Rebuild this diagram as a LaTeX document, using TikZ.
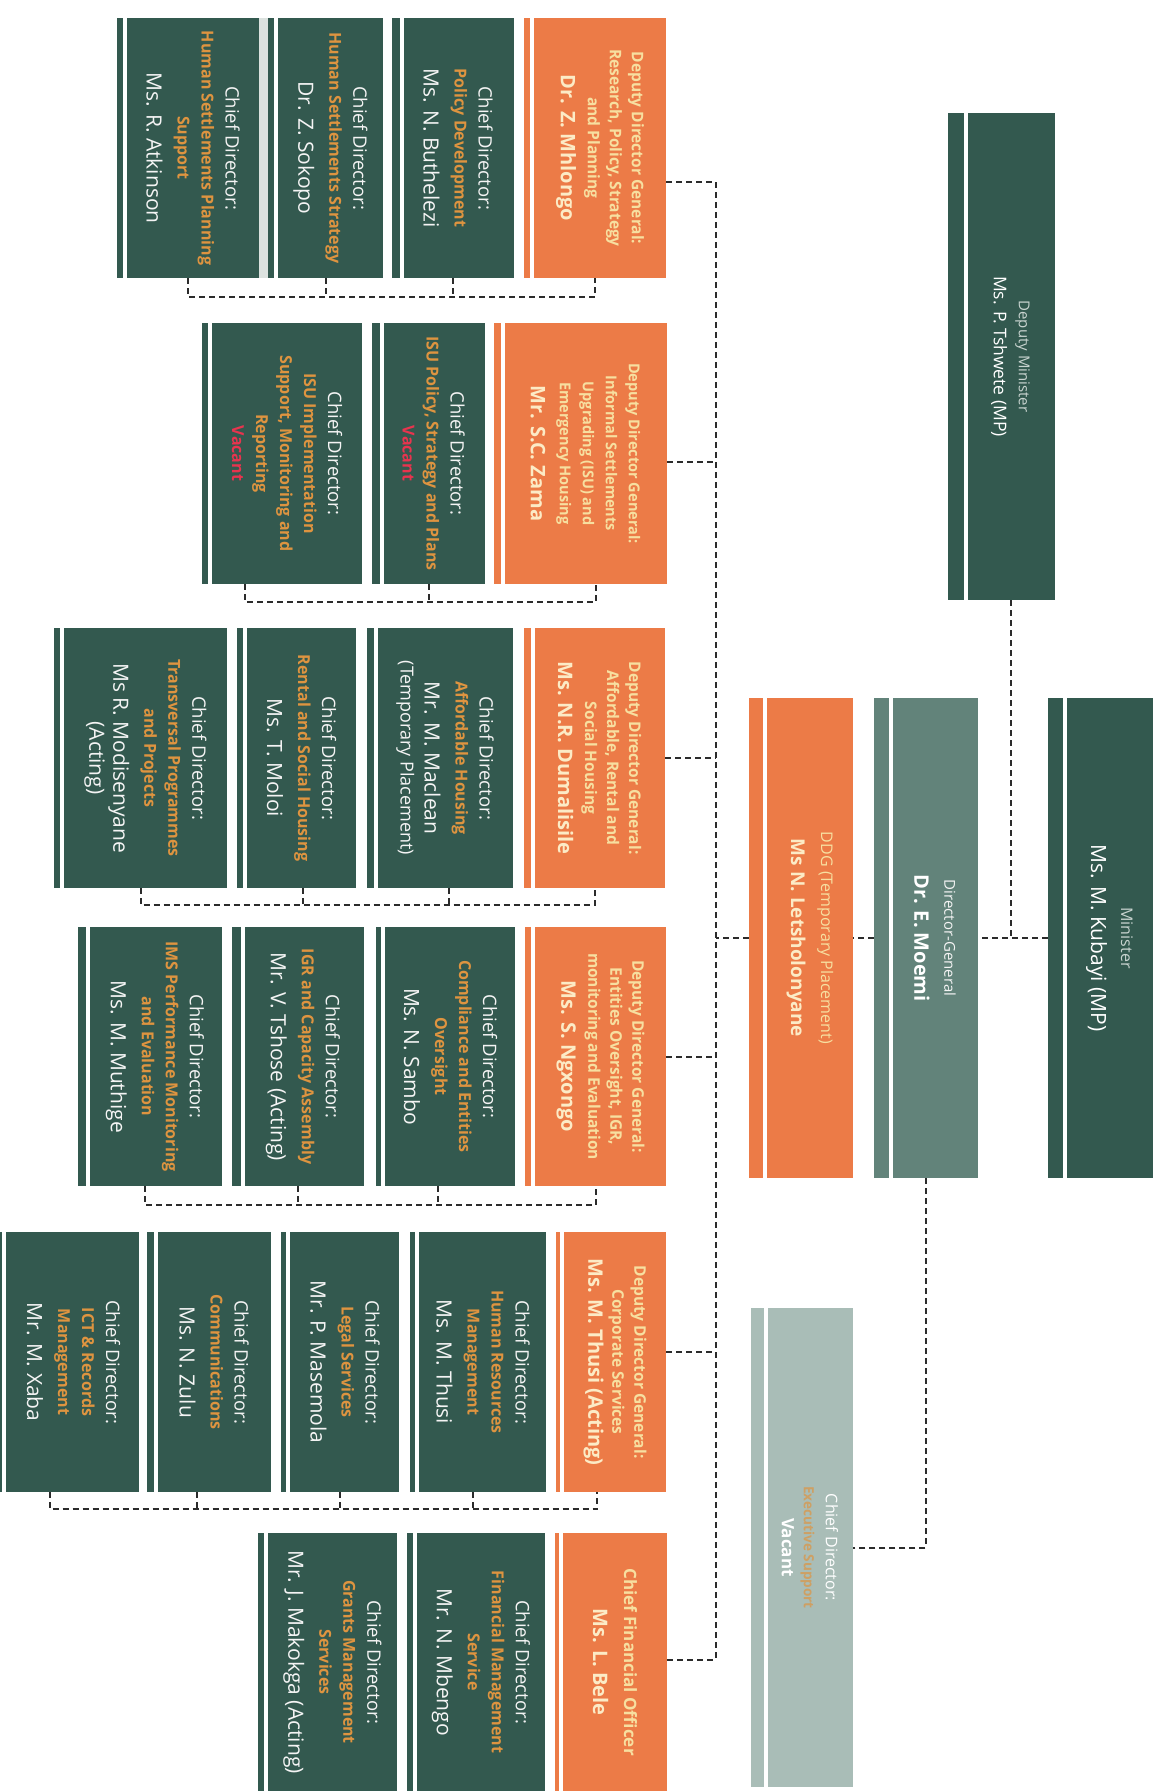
\documentclass[tikz,border=0pt]{standalone}
\usepackage{fontspec}
\setmainfont{Open Sans}
\newfontfamily\subf{Open Sans}[FakeStretch=0.97]
\usetikzlibrary{fit,calc}
\definecolor{dkg}{HTML}{33594F}
\definecolor{mdg}{HTML}{62837A}
\definecolor{org}{HTML}{EC7B47}
\definecolor{exc}{HTML}{A9BDB7}
\definecolor{subor}{HTML}{DE9440}
\definecolor{cream}{HTML}{F7DFA0}
\definecolor{creamn}{HTML}{FCEBC6}
\definecolor{vacred}{HTML}{E8344E}
\definecolor{ltxt}{HTML}{C8D3CF}
\definecolor{linec}{HTML}{2B2B2B}
\definecolor{txw}{HTML}{F4F4F4}
\definecolor{gapg}{HTML}{DCE2DF}
\newcommand\cdT{{\fontsize{18.5}{24}\selectfont\color{txw}Chief Director:}}
\newcommand\cdS[1]{{\subf\bfseries\fontsize{16.5}{24}\selectfont\color{subor}#1}}
\newcommand\cdN[1]{{\fontsize{21}{24}\selectfont\color{txw}#1}}
\newcommand\cdV{{\subf\bfseries\fontsize{16.5}{24}\selectfont\color{vacred}Vacant}}
\newcommand\ddT[1]{{\subf\bfseries\fontsize{16}{22}\selectfont\color{cream}#1}}
\newcommand\ddTs[1]{{\subf\bfseries\fontsize{15}{23}\selectfont\color{cream}#1}}
\newcommand\ddN[1]{{\bfseries\fontsize{20}{22}\selectfont\color{creamn}#1}}
\begin{document}
\begin{tikzpicture}[x=1pt,y=-1pt,
  conn/.style={draw=linec, line width=2pt, dash pattern=on 6pt off 4pt},
  cbox/.style={inner sep=0pt, draw=none},
  gapat/.style={path picture={\fill[white] ([xshift=#1]path picture bounding box.north west) rectangle ([xshift=#1+4pt]path picture bounding box.south west);}},
  lbl/.style={rotate=-90, align=center, inner sep=0pt},
  cdlbl/.style={lbl, font=\fontsize{18}{24}\selectfont},
  ddlbl/.style={lbl, font=\fontsize{16}{22}\selectfont}]
\fill[white] (0,0) rectangle (1163,1791);
\useasboundingbox (0,0) rectangle (1163,1791);
\fill[gapg] (259,18) rectangle (268,278);

% ---------- top level ----------
\node[cbox, fill=dkg, gapat=16pt, fit={(948,113) (1055,600)}] (dm) {};
\node[lbl, font=\fontsize{15}{25}\selectfont] (dm-t) at ([xshift=9pt]dm.center) {{\color{ltxt}Deputy Minister}\\{\fontsize{17.5}{25}\selectfont\color{white}Ms. P. Tshwete (MP)}};

\node[cbox, fill=dkg, gapat=15pt, fit={(1048,698) (1153,1178)}] (minister) {};
\node[lbl, font=\fontsize{16}{30}\selectfont] (minister-t) at ([xshift=9pt]minister.center) {{\color{ltxt}Minister}\\{\fontsize{21}{30}\selectfont\color{white}Ms. M. Kubayi (MP)}};

\node[cbox, fill=mdg, gapat=15pt, fit={(874,698) (978,1178)}] (dg) {};
\node[lbl, font=\fontsize{15}{30}\selectfont] (dg-t) at ([xshift=9pt]dg.center) {{\color{txw}Director-General}\\{\bfseries\fontsize{20}{30}\selectfont\color{white}Dr. E. Moemi}};

\node[cbox, fill=org, gapat=14pt, fit={(749,698) (853,1178)}] (ddg) {};
\node[lbl, font=\fontsize{16}{30}\selectfont] (ddg-t) at ([xshift=9pt]ddg.center) {{\color{cream}DDG (Temporary Placement)}\\{\bfseries\fontsize{19}{30}\selectfont\color{creamn}Ms N. Letsholonyane}};

\node[cbox, fill=exc, gapat=13pt, fit={(751,1308) (853,1787)}] (exec) {};
\node[lbl, font=\fontsize{16}{22}\selectfont] (exec-t) at ([xshift=8pt]exec.center) {{\color{white}Chief Director:}\\{\subf\bfseries\fontsize{14}{22}\selectfont\color{subor!70!exc}Executive Support}\\{\bfseries\fontsize{17}{22}\selectfont\color{white}Vacant}};

% ---------- band 1 ----------
\node[cbox, fill=org, gapat=6pt, fit={(524,18) (666,278)}] (mhl) {};
\node[ddlbl] (mhl-t) at ([xshift=5pt]mhl.center) {\ddT{Deputy Director General:}\\\ddT{Research, Policy, Strategy}\\\ddT{and Planning}\\[5pt]\ddN{Dr. Z. Mhlongo}};
\node[cbox, fill=dkg, gapat=8pt, fit={(392,18) (514,278)}] (but) {};
\node[cdlbl] (but-t) at ([xshift=5pt]but.center) {\cdT\\\cdS{Policy Development}\\[7pt]\cdN{Ms. N. Buthelezi}};
\node[cbox, fill=dkg, gapat=6pt, fit={(268,18) (383,278)}] (sok) {};
\node[cdlbl] (sok-t) at ([xshift=5pt]sok.center) {\cdT\\\cdS{Human Settlements Strategy}\\[7pt]\cdN{Dr. Z. Sokopo}};
\node[cbox, fill=dkg, gapat=6pt, fit={(117,18) (259,278)}] (atk) {};
\node[cdlbl] (atk-t) at ([xshift=5pt]atk.center) {\cdT\\\cdS{Human Settlements Planning}\\\cdS{Support}\\[7pt]\cdN{Ms. R. Atkinson}};

% ---------- band 2 ----------
\node[cbox, fill=org, gapat=7pt, fit={(494,323) (667,584)}] (zama) {};
\node[ddlbl, font=\fontsize{15}{23}\selectfont] (zama-t) at ([xshift=5pt]zama.center) {\ddTs{Deputy Director General:}\\\ddTs{Informal Settlements}\\\ddTs{Upgrading (ISU) and}\\\ddTs{Emergency Housing}\\[6pt]\ddN{Mr. S.C. Zama}};
\node[cbox, fill=dkg, gapat=8pt, fit={(372,323) (485,584)}] (isup) {};
\node[cdlbl] (isup-t) at ([xshift=5pt]isup.center) {\cdT\\\cdS{ISU Policy, Strategy and Plans}\\\cdV};
\node[cbox, fill=dkg, gapat=6pt, fit={(202,323) (362,584)}] (isui) {};
\node[cdlbl] (isui-t) at ([xshift=5pt]isui.center) {\cdT\\\cdS{ISU Implementation}\\\cdS{Support, Monitoring and}\\\cdS{Reporting}\\\cdV};

% ---------- band 3 ----------
\node[cbox, fill=org, gapat=7pt, fit={(524,628) (665,888)}] (duma) {};
\node[ddlbl] (duma-t) at ([xshift=5pt]duma.center) {\ddT{Deputy Director General:}\\\ddT{Affordable, Rental and}\\\ddT{Social Housing}\\[5pt]\ddN{Ms. N.R. Dumalisile}};
\node[cbox, fill=dkg, gapat=7pt, fit={(367,628) (513,888)}] (macl) {};
\node[cdlbl] (macl-t) at ([xshift=5pt]macl.center) {\cdT\\\cdS{Affordable Housing}\\[7pt]\cdN{Mr. M. Maclean}\\{\color{txw}(Temporary Placement)}};
\node[cbox, fill=dkg, gapat=6pt, fit={(237,628) (356,888)}] (moloi) {};
\node[cdlbl] (moloi-t) at ([xshift=5pt]moloi.center) {\cdT\\\cdS{Rental and Social Housing}\\[7pt]\cdN{Ms. T. Moloi}};
\node[cbox, fill=dkg, gapat=6pt, fit={(54,628) (227,888)}] (modi) {};
\node[cdlbl] (modi-t) at ([xshift=5pt]modi.center) {\cdT\\\cdS{Transversal Programmes}\\\cdS{and Projects}\\[7pt]\cdN{Ms R. Modisenyane}\\\cdN{(Acting)}};

% ---------- band 4 ----------
\node[cbox, fill=org, gapat=6pt, fit={(525,927) (666,1186)}] (ngxo) {};
\node[ddlbl] (ngxo-t) at ([xshift=5pt]ngxo.center) {\ddT{Deputy Director General:}\\\ddT{Entities Oversight, IGR,}\\\ddT{monitoring and Evaluation}\\[5pt]\ddN{Ms. S. Ngxongo}};
\node[cbox, fill=dkg, gapat=5pt, fit={(376,927) (515,1186)}] (samb) {};
\node[cdlbl] (samb-t) at ([xshift=5pt]samb.center) {\cdT\\\cdS{Compliance and Entities}\\\cdS{Oversight}\\[7pt]\cdN{Ms. N. Sambo}};
\node[cbox, fill=dkg, gapat=9pt, fit={(232,927) (364,1186)}] (tsho) {};
\node[cdlbl] (tsho-t) at ([xshift=5pt]tsho.center) {\cdT\\\cdS{IGR and Capacity Assembly}\\[7pt]\cdN{Mr. V. Tshose (Acting)}};
\node[cbox, fill=dkg, gapat=8pt, fit={(78,927) (222,1186)}] (muth) {};
\node[cdlbl] (muth-t) at ([xshift=5pt]muth.center) {\cdT\\\cdS{IMS Performance Monitoring}\\\cdS{and Evaluation}\\[7pt]\cdN{Ms. M. Muthige}};

% ---------- band 5 ----------
\node[cbox, fill=org, gapat=4pt, fit={(556,1232) (666,1492)}] (corp) {};
\node[ddlbl] (corp-t) at ([xshift=4pt]corp.center) {\ddT{Deputy Director General:}\\\ddT{Corporate Services}\\[2pt]\ddN{Ms. M. Thusi (Acting)}};
\node[cbox, fill=dkg, gapat=5pt, fit={(410,1232) (546,1492)}] (thus) {};
\node[cdlbl] (thus-t) at ([xshift=5pt]thus.center) {\cdT\\\cdS{Human Resources}\\\cdS{Management}\\[7pt]\cdN{Ms. M. Thusi}};
\node[cbox, fill=dkg, gapat=5pt, fit={(281,1232) (399,1492)}] (mase) {};
\node[cdlbl] (mase-t) at ([xshift=5pt]mase.center) {\cdT\\\cdS{Legal Services}\\[7pt]\cdN{Mr. P. Masemola}};
\node[cbox, fill=dkg, gapat=7pt, fit={(147,1232) (271,1492)}] (zulu) {};
\node[cdlbl] (zulu-t) at ([xshift=5pt]zulu.center) {\cdT\\\cdS{Communications}\\[7pt]\cdN{Ms. N. Zulu}};
\node[cbox, fill=dkg, gapat=4pt, fit={(-2,1232) (139,1492)}] (xaba) {};
\node[cdlbl] (xaba-t) at ([xshift=5pt]xaba.center) {\cdT\\\cdS{ICT \& Records}\\\cdS{Management}\\[7pt]\cdN{Mr. M. Xaba}};

% ---------- band 6 ----------
\node[cbox, fill=org, gapat=4pt, fit={(555,1533) (667,1791)}] (cfo) {};
\node[lbl, font=\fontsize{17}{31}\selectfont] (cfo-t) at ([xshift=4pt]cfo.center) {{\bfseries\color{cream}Chief Financial Officer}\\{\bfseries\fontsize{20}{31}\selectfont\color{creamn}Ms. L. Bele}};
\node[cbox, fill=dkg, gapat=6pt, fit={(407,1533) (545,1791)}] (mben) {};
\node[cdlbl] (mben-t) at ([xshift=5pt]mben.center) {\cdT\\\cdS{Financial Management}\\\cdS{Service}\\[7pt]\cdN{Mr. N. Mbengo}};
\node[cbox, fill=dkg, gapat=6pt, fit={(258,1533) (397,1791)}] (mako) {};
\node[cdlbl] (mako-t) at ([xshift=5pt]mako.center) {\cdT\\\cdS{Grants Management}\\\cdS{Services}\\[7pt]\cdN{Mr. J. Makokga (Acting)}};

% ---------- connectors ----------
\coordinate (s1) at (716,182);
\coordinate (s2) at (716,462);
\coordinate (s3) at (716,758);
\coordinate (s4) at (716,1057);
\coordinate (s5) at (716,1352);
\coordinate (s6) at (716,1660);
\draw[conn] (s1) -- (s6);
\draw[conn] (mhl.east |- s1) -- (s1);
\draw[conn] (zama.east |- s2) -- (s2);
\draw[conn] (duma.east |- s3) -- (s3);
\draw[conn] (ngxo.east |- s4) -- (s4);
\draw[conn] (corp.east |- s5) -- (s5);
\draw[conn] (cfo.east |- s6) -- (s6);
\draw[conn] (ddg.west) -- (ddg.west -| s1);
\draw[conn] (dg.west) -- (ddg.east);
\draw[conn] (minister.west) -- (dg.east);
\draw[conn] ([xshift=9pt]dm.south) -- ([xshift=9pt]dm.south |- minister.west);
\draw[conn] (dg.south) |- (exec.east);

% band brackets
\draw[conn] (atk.south) -- ++(0,19) -| (mhl.south);
\draw[conn] (sok.south) -- ++(0,19);
\draw[conn] (but.south) -- ++(0,19);

\draw[conn] ([xshift=-37pt]isui.south) -- ++(0,18) -| ([xshift=15pt]zama.south);
\draw[conn] (isup.south) -- ++(0,18);

\draw[conn] (modi.south) -- ++(0,17) -| (duma.south);
\draw[conn] ([xshift=6pt]moloi.south) -- ++(0,17);
\draw[conn] ([xshift=9pt]macl.south) -- ++(0,17);

\draw[conn] ([xshift=-5pt]muth.south) -- ++(0,19) -| (ngxo.south);
\draw[conn] (tsho.south) -- ++(0,19);
\draw[conn] ([xshift=-8pt]samb.south) -- ++(0,19);

\draw[conn] ([xshift=-19pt]xaba.south) -- ++(0,17) -| ([xshift=-14pt]corp.south);
\draw[conn] ([xshift=-12pt]zulu.south) -- ++(0,17);
\draw[conn] (mase.south) -- ++(0,17);
\draw[conn] ([xshift=-5pt]thus.south) -- ++(0,17);
\end{tikzpicture}
\end{document}
